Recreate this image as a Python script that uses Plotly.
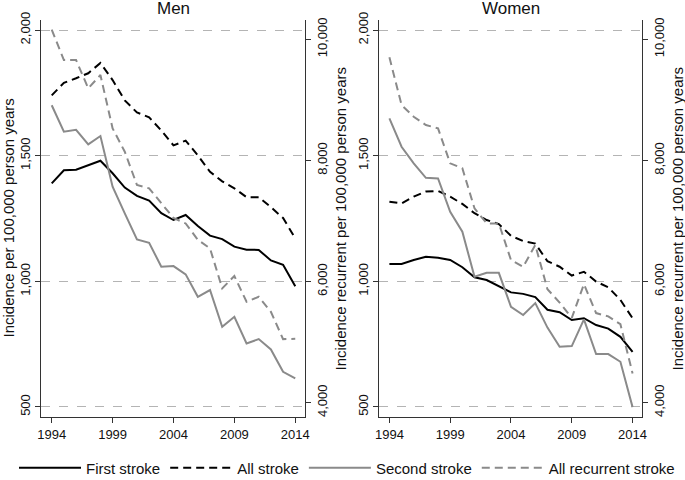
import plotly.graph_objects as go

years = list(range(1994, 2015))

# Men
men_first = [1390, 1442, 1444, 1462, 1480, 1430, 1373, 1340, 1321, 1271, 1244, 1264, 1220, 1182, 1168, 1138, 1126, 1125, 1083, 1066, 980]
men_all = [1740, 1790, 1808, 1828, 1869, 1801, 1720, 1672, 1653, 1600, 1541, 1560, 1501, 1436, 1398, 1370, 1335, 1335, 1295, 1252, 1171]
men_second = [8912, 8474, 8507, 8266, 8403, 7566, 7126, 6697, 6641, 6245, 6256, 6119, 5749, 5860, 5254, 5419, 4979, 5050, 4880, 4510, 4401]
men_allrec = [10160, 9658, 9658, 9191, 9410, 8530, 8144, 7594, 7539, 7291, 7050, 6960, 6690, 6548, 5888, 6091, 5667, 5749, 5501, 5050, 5055]

# Women
women_first = [1069, 1069, 1085, 1098, 1094, 1085, 1056, 1016, 1005, 979, 956, 950, 937, 887, 877, 846, 853, 826, 812, 779, 719]
women_all = [1317, 1310, 1337, 1357, 1360, 1337, 1308, 1271, 1244, 1228, 1181, 1160, 1150, 1080, 1058, 1023, 1038, 999, 976, 926, 853]
women_second = [8695, 8226, 7952, 7714, 7704, 7153, 6823, 6079, 6145, 6145, 5584, 5447, 5645, 5240, 4923, 4935, 5376, 4803, 4803, 4676, 3927]
women_allrec = [9703, 8915, 8722, 8585, 8530, 7952, 7870, 7209, 6961, 6961, 6355, 6245, 6603, 5874, 5654, 5400, 5956, 5480, 5425, 5296, 4484]

x_ticks = [1994, 1999, 2004, 2009, 2014]
left_ticks = [500, 1000, 1500, 2000]
right_ticks = [4000, 6000, 8000, 10000]

y_title_left = "Incidence per 100,000 person years"
y_title_right = "Incidence recurrent per 100,000 person years"

BLACK = "#000000"
GREY = "#8a8a8a"
FONT = "Liberation Sans, Arial, sans-serif"
DASH = "8px,5px"

fig = go.Figure()

def add_panel(first, allst, second, allrec, xa, ya_l, ya_r, show):
    fig.add_trace(go.Scatter(x=years, y=first, mode="lines", name="First stroke",
                             line=dict(color=BLACK, width=2), xaxis=xa, yaxis=ya_l,
                             showlegend=show, legendrank=1))
    fig.add_trace(go.Scatter(x=years, y=allst, mode="lines", name="All stroke",
                             line=dict(color=BLACK, width=2, dash=DASH), xaxis=xa, yaxis=ya_l,
                             showlegend=show, legendrank=2))
    fig.add_trace(go.Scatter(x=years, y=second, mode="lines", name="Second stroke",
                             line=dict(color=GREY, width=2), xaxis=xa, yaxis=ya_r,
                             showlegend=show, legendrank=3))
    fig.add_trace(go.Scatter(x=years, y=allrec, mode="lines", name="All recurrent stroke",
                             line=dict(color=GREY, width=2, dash=DASH), xaxis=xa, yaxis=ya_r,
                             showlegend=show, legendrank=4))

add_panel(men_first, men_all, men_second, men_allrec, "x", "y", "y2", True)
add_panel(women_first, women_all, women_second, women_allrec, "x2", "y3", "y4", False)

W, H = 685, 480
ydom = [1 - 417 / H, 1 - 20 / H]
xdom1 = [41 / W, 305 / W]
xdom2 = [378.7 / W, 642.3 / W]

tickfont = dict(family=FONT, size=13, color="#111")

def xaxis_cfg(dom, anchor):
    return dict(domain=dom, anchor=anchor, range=[1993.12, 2014.8], tickvals=x_ticks,
                ticks="outside", ticklen=5, tickcolor="#333", showline=True, linecolor="#333",
                linewidth=1, showgrid=False, zeroline=False, tickfont=tickfont, automargin=False)

def yleft_cfg(anchor):
    return dict(domain=ydom, anchor=anchor, range=[460, 2040], tickvals=left_ticks,
                tickformat=",d", tickangle=-90, ticks="outside", ticklen=5, tickcolor="#333",
                showline=True, linecolor="#333", linewidth=1, showgrid=True,
                gridcolor="#b4b4b4", griddash="dash", gridwidth=1, zeroline=False,
                tickfont=tickfont, automargin=False)

def yright_cfg(anchor, overlay):
    return dict(domain=ydom, anchor=anchor, overlaying=overlay, side="right",
                range=[3764, 10319], tickvals=right_ticks, tickformat=",d", tickangle=-90,
                ticks="outside", ticklen=5, tickcolor="#333", showline=True, linecolor="#333",
                linewidth=1, showgrid=False, zeroline=False, tickfont=tickfont, automargin=False)

fig.update_layout(
    width=W, height=H,
    margin=dict(l=0, r=0, t=0, b=0, autoexpand=False),
    paper_bgcolor="white", plot_bgcolor="white",
    font=dict(family=FONT, color="#111"),
    xaxis=xaxis_cfg(xdom1, "y"),
    xaxis2=xaxis_cfg(xdom2, "y3"),
    yaxis=yleft_cfg("x"),
    yaxis2=yright_cfg("x", "y"),
    yaxis3=yleft_cfg("x2"),
    yaxis4=yright_cfg("x2", "y3"),
    legend=dict(orientation="h", x=14 / W, xanchor="left", y=1 - 468 / H, yanchor="middle",
                font=dict(family=FONT, size=15, color="#111"), bgcolor="rgba(0,0,0,0)",
                traceorder="normal", itemwidth=62),
    showlegend=True,
)

annots = [
    dict(text="Men", x=(xdom1[0] + xdom1[1]) / 2, y=1 - 8 / H, font=dict(size=17)),
    dict(text="Women", x=(xdom2[0] + xdom2[1]) / 2, y=1 - 8 / H, font=dict(size=17)),
    dict(text=y_title_left, x=8 / W, y=(ydom[0] + ydom[1]) / 2, textangle=-90, font=dict(size=15)),
    dict(text=y_title_right, x=340 / W, y=(ydom[0] + ydom[1]) / 2, textangle=-90, font=dict(size=15)),
    dict(text=y_title_right, x=677 / W, y=(ydom[0] + ydom[1]) / 2, textangle=-90, font=dict(size=15)),
]
for a in annots:
    a.update(xref="paper", yref="paper", showarrow=False, xanchor="center", yanchor="middle",
             borderpad=0)
    a["font"].update(family=FONT, color="#111")
    fig.add_annotation(**a)

fig.write_html(
    "out.html",
    config={"displayModeBar": False},
    post_script=(
        "document.documentElement.style.overflow='hidden';"
        "document.body.style.overflow='hidden';"
        "document.body.style.margin='0';"
    ),
)
